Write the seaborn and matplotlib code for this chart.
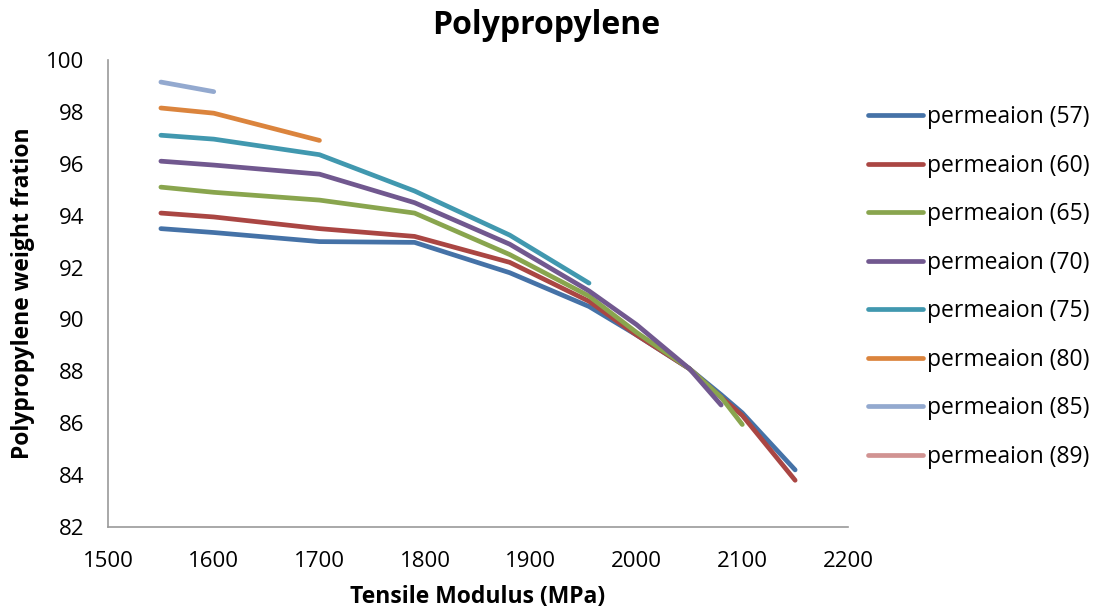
import matplotlib
matplotlib.use("Agg")
import matplotlib.pyplot as plt
from matplotlib.lines import Line2D
import numpy as np
import pandas as pd
import seaborn as sns

sns.set_style("white")
plt.rcParams['font.family'] = ['Open Sans', 'DejaVu Sans']
plt.rcParams['text.color'] = 'black'
plt.rcParams['axes.labelcolor'] = 'black'

modulus = [1550, 1600, 1700, 1790, 1880, 1955, 2000, 2050, 2080, 2100, 2150]
nan = np.nan
p57 = [93.5, 93.35, 93.0, 92.97, 91.8, 90.5, 89.4, 88.1, 87.1, 86.4, 84.2]
p60 = [94.1, 93.95, 93.5, 93.2, 92.2, 90.7, 89.4, 88.1, 87.0, 86.3, 83.8]
p65 = [95.1, 94.9, 94.6, 94.1, 92.5, 90.9, 89.5, 88.1, 87.0, 85.95, nan]
p70 = [96.1, 95.95, 95.6, 94.5, 92.9, 91.1, 89.8, 88.1, 86.7, nan, nan]
p75 = [97.1, 96.95, 96.35, 94.95, 93.25, 91.4, nan, nan, nan, nan, nan]
p80 = [98.15, 97.95, 96.9, nan, nan, nan, nan, nan, nan, nan, nan]
p85 = [99.15, 98.78, nan, nan, nan, nan, nan, nan, nan, nan, nan]
p89 = [nan] * 11

series_names = ["permeaion (57)", "permeaion (60)", "permeaion (65)", "permeaion (70)",
                "permeaion (75)", "permeaion (80)", "permeaion (85)", "permeaion (89)"]
series_vals = [p57, p60, p65, p70, p75, p80, p85, p89]
colors = ["#4572A7", "#AA4643", "#89A54E", "#71588F", "#4198AF", "#DB843D", "#93A9CF", "#D19392"]

rows = []
for name, vals in zip(series_names, series_vals):
    for x, y in zip(modulus, vals):
        if not np.isnan(y):
            rows.append({"x": x, "y": y, "series": name})
df = pd.DataFrame(rows)

fig = plt.figure(figsize=(10.99, 6.16), dpi=100)
ax = fig.add_axes([0.0983, 0.1445, 0.6733, 0.7581])

present = [n for n in series_names if n in set(df["series"])]
pal = {n: c for n, c in zip(series_names, colors)}
sns.lineplot(data=df, x="x", y="y", hue="series", hue_order=present, palette=pal,
             linewidth=3.4, ax=ax, legend=False, sort=True, estimator=None)
for l in ax.lines:
    l.set_solid_capstyle("round")
    l.set_solid_joinstyle("round")

ax.set_xlim(1500, 2200)
ax.set_ylim(82, 100)
ax.set_xticks(range(1500, 2201, 100))
ax.set_yticks(range(82, 101, 2))
ax.tick_params(axis='y', labelsize=16, length=0, pad=17, colors="#000000")
ax.tick_params(axis='x', labelsize=16, length=0, pad=17, colors="#000000")
for s in ["top", "right"]:
    ax.spines[s].set_visible(False)
for s in ["left", "bottom"]:
    ax.spines[s].set_color("#9A9A9A")
    ax.spines[s].set_linewidth(1.2)

ax.set_xlabel("Tensile Modulus (MPa)", fontsize=16.5, fontweight="bold", labelpad=10)
ax.set_ylabel("Polypropylene weight fration", fontsize=16.5, fontweight="bold", labelpad=8)
fig.text(0.497, 0.958, "Polypropylene", ha="center", va="center", fontsize=23, fontweight="bold")

handles = [Line2D([0], [0], color=c, linewidth=3.4, solid_capstyle="round") for c in colors]
fig.legend(handles, series_names, loc="upper left", bbox_to_anchor=(0.7895, 0.829),
           frameon=False, fontsize=16.5, handlelength=2.4, handletextpad=0.2,
           labelspacing=1.07, borderaxespad=0, borderpad=0, labelcolor="black")

fig.savefig("out.png", dpi=100)
